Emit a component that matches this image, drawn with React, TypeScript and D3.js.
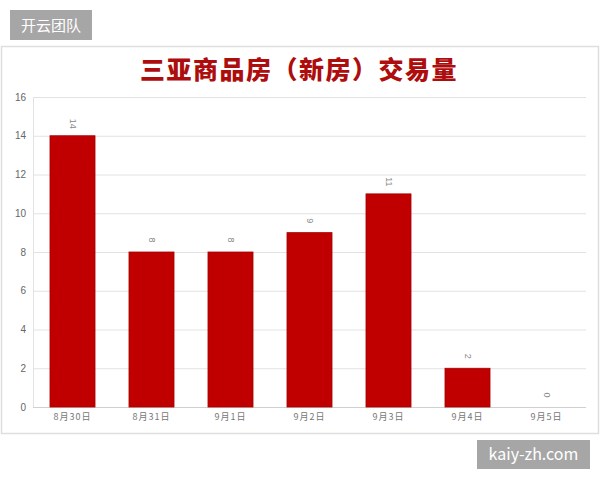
import React from "react";
import * as d3 from "d3";

const categories = ["8月30日", "8月31日", "9月1日", "9月2日", "9月3日", "9月4日", "9月5日"];
const values = [14, 8, 8, 9, 11, 2, 0];
const yTicks = [0, 2, 4, 6, 8, 10, 12, 14, 16];
const title = "三亚商品房（新房）交易量";
const badgeText = "开云团队";
const watermark = "kaiy-zh.com";

export default function App() {
  const W = 600, H = 480;
  const left = 33, right = 586, top = 97, bottom = 407;
  const x = d3.scaleBand<string>().domain(categories).range([left, right]).paddingInner(0.43).paddingOuter(0.215);
  const y = d3.scaleLinear().domain([0, 16]).range([bottom, top]);
  const font = "'Noto Sans CJK SC', 'Noto Sans', sans-serif";
  const numFont = "'Liberation Sans', Arial, sans-serif";
  return (
    <svg width={W} height={H} style={{ position: "absolute", left: 0, top: 0 }} fontFamily={font}>
      <rect x={0} y={0} width={W} height={H} fill="#fff" />
      <rect x={10} y={10} width={82} height={30} fill="#a6a6a6" />
      <text x={51} y={30.5} textAnchor="middle" fontSize={15} fill="#fff">{badgeText}</text>
      <rect x={1.5} y={46.5} width={597} height={387} fill="#fff" stroke="#dedede" strokeWidth={1.5} />
      <text x={299} y={79} textAnchor="middle" fontSize={25} fontWeight={900} letterSpacing={1.5} fill="#ad0d0d">{title}</text>
      {yTicks.map((t) => (
        <g key={t}>
          <line x1={left} x2={right} y1={y(t) + 0.5} y2={y(t) + 0.5} stroke={t === 0 ? "#d0d0d0" : "#e2e2e2"} strokeWidth={1} />
          <text x={26} y={y(t) + 3.5} textAnchor="end" fontSize={10} fontFamily={numFont} fill="#666">{t}</text>
        </g>
      ))}
      <line x1={left + 0.5} x2={left + 0.5} y1={top} y2={bottom} stroke="#e2e2e2" />
      {categories.map((c, i) => (
        <g key={c}>
          {values[i] > 0 && (
            <rect x={x(c)!} y={y(values[i])} width={x.bandwidth()} height={bottom - y(values[i])} fill="#c00000" stroke="#a80000" strokeWidth={0.8} />
          )}
          <text
            transform={`translate(${x(c)! + x.bandwidth() / 2 - 3},${y(values[i]) - 12}) rotate(90)`}
            textAnchor="middle"
            fontSize={9}
            fontFamily={numFont}
            fill="#888"
          >
            {values[i]}
          </text>
          <text x={x(c)! + x.bandwidth() / 2} y={420} textAnchor="middle" fontSize={9} fill="#777" letterSpacing={1}>{c}</text>
        </g>
      ))}
      <rect x={477} y={440} width={113} height={29} fill="#a6a6a6" />
      <text x={533.5} y={460} textAnchor="middle" fontSize={16} fill="#fff">{watermark}</text>
    </svg>
  );
}
